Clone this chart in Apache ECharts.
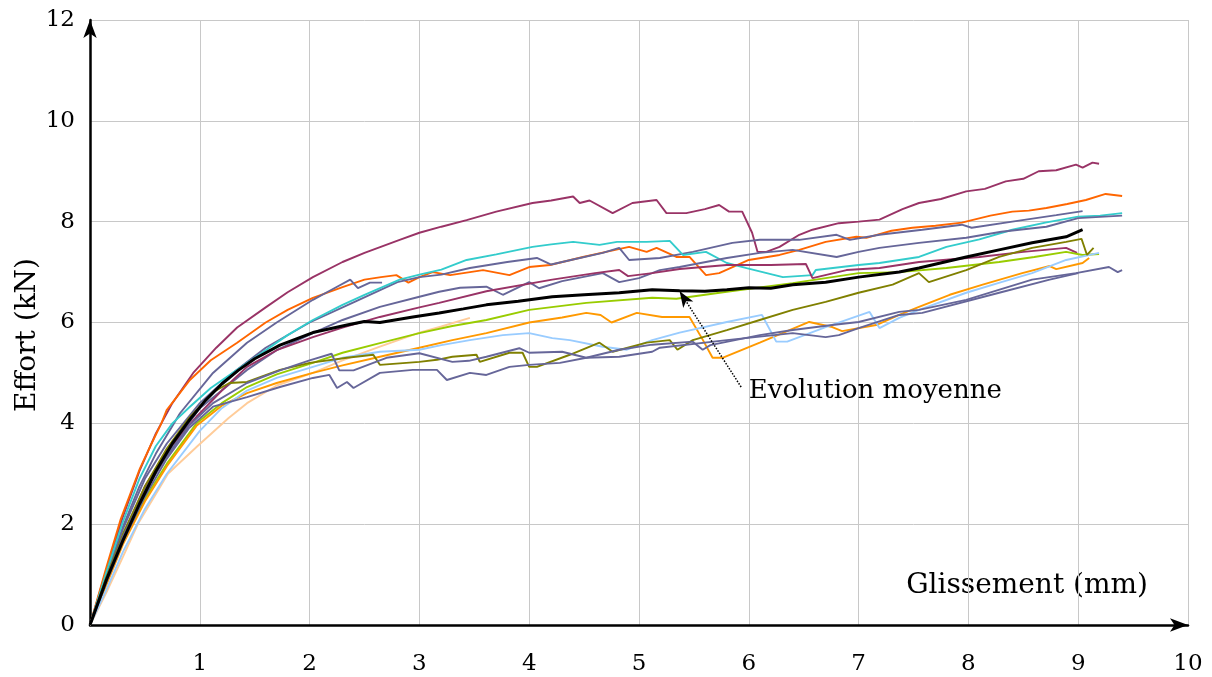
<!DOCTYPE html>
<html>
<head>
<meta charset="utf-8">
<script src="https://cdn.jsdelivr.net/npm/echarts@6/dist/echarts.min.js"></script>
<style>
  html, body { margin: 0; padding: 0; background: #fff; }
  #chart { width: 1212px; height: 677px; }
</style>
</head>
<body>
<div id="chart"></div>
<script>
// essais de glissement : [glissement (mm), effort (kN)]
var plumHigh = [[0,0],[0.15,1.1],[0.3,2.15],[0.45,3.05],[0.6,3.8],[0.75,4.4],[0.94,5.0],[1.15,5.5],[1.34,5.9],[1.6,6.3],[1.8,6.6],[2.03,6.9],[2.3,7.2],[2.5,7.38],[2.82,7.64],[3.0,7.78],[3.2,7.9],[3.43,8.03],[3.7,8.2],[4.03,8.37],[4.2,8.42],[4.4,8.5],[4.46,8.37],[4.55,8.42],[4.76,8.17],[4.94,8.37],[5.16,8.43],[5.25,8.17],[5.43,8.17],[5.6,8.25],[5.73,8.33],[5.82,8.2],[5.94,8.2],[6.03,7.78],[6.08,7.4],[6.16,7.4],[6.28,7.5],[6.46,7.74],[6.58,7.84],[6.82,7.97],[7.0,8.0],[7.19,8.04],[7.4,8.25],[7.55,8.37],[7.75,8.45],[7.98,8.6],[8.15,8.65],[8.34,8.8],[8.5,8.85],[8.64,9.0],[8.8,9.02],[8.98,9.13],[9.04,9.07],[9.13,9.17],[9.19,9.15]];
var plumMid = [[0,0],[0.15,0.9],[0.3,1.75],[0.5,2.75],[0.7,3.45],[0.97,4.13],[1.2,4.65],[1.43,5.12],[1.7,5.45],[2.03,5.71],[2.3,5.9],[2.64,6.11],[3.0,6.3],[3.18,6.39],[3.61,6.62],[4.21,6.85],[4.6,6.98],[4.82,7.04],[4.9,6.92],[5.12,6.98],[5.37,7.06],[5.8,7.14],[6.2,7.14],[6.52,7.16],[6.58,6.88],[6.89,7.04],[7.19,7.08],[7.55,7.2],[8.1,7.3],[8.5,7.4],[8.89,7.48],[8.99,7.38]];
var redOrange = [[0,0],[0.15,1.15],[0.28,2.1],[0.45,3.08],[0.55,3.55],[0.65,4.0],[0.7,4.27],[0.8,4.55],[0.91,4.86],[1.1,5.25],[1.34,5.6],[1.6,6.0],[1.8,6.25],[2.03,6.49],[2.3,6.7],[2.5,6.85],[2.65,6.9],[2.79,6.94],[2.9,6.79],[3.0,6.9],[3.12,7.0],[3.28,6.94],[3.58,7.04],[3.82,6.94],[4.0,7.1],[4.19,7.14],[4.49,7.3],[4.7,7.4],[4.91,7.5],[5.07,7.4],[5.16,7.48],[5.34,7.3],[5.46,7.3],[5.61,6.94],[5.73,6.98],[6.0,7.24],[6.28,7.34],[6.46,7.44],[6.7,7.6],[6.98,7.7],[7.07,7.68],[7.3,7.82],[7.49,7.88],[7.7,7.92],[7.94,7.98],[8.2,8.12],[8.4,8.2],[8.55,8.22],[8.71,8.27],[8.9,8.35],[9.07,8.43],[9.25,8.55],[9.4,8.51]];
var cyan = [[0,0],[0.15,1.05],[0.3,2.05],[0.45,2.9],[0.6,3.55],[0.75,4.0],[0.91,4.33],[1.1,4.7],[1.34,5.06],[1.6,5.45],[1.8,5.75],[2.03,6.05],[2.3,6.35],[2.5,6.55],[2.82,6.85],[3.0,6.95],[3.2,7.05],[3.43,7.24],[3.7,7.35],[4.03,7.5],[4.2,7.55],[4.4,7.6],[4.64,7.54],[4.8,7.6],[5.07,7.6],[5.28,7.62],[5.4,7.34],[5.61,7.4],[5.8,7.18],[5.98,7.08],[6.31,6.9],[6.58,6.94],[6.61,7.04],[7.0,7.14],[7.19,7.18],[7.55,7.3],[7.8,7.5],[8.1,7.65],[8.4,7.84],[8.7,7.98],[9.0,8.1],[9.2,8.12],[9.4,8.17]];
var slateShort = [[0,0],[0.15,1.0],[0.3,1.95],[0.45,2.75],[0.6,3.4],[0.82,4.2],[1.12,5.0],[1.43,5.6],[1.7,6.0],[2.03,6.45],[2.2,6.65],[2.37,6.85],[2.44,6.68],[2.55,6.79],[2.66,6.79]];
var slateHigh = [[0,0],[0.15,1.0],[0.3,1.9],[0.5,2.9],[0.7,3.6],[1.0,4.4],[1.3,5.0],[1.6,5.5],[2.0,6.0],[2.4,6.4],[2.8,6.8],[3.0,6.9],[3.2,6.95],[3.46,7.08],[3.8,7.2],[4.07,7.28],[4.2,7.15],[4.4,7.25],[4.67,7.38],[4.82,7.48],[4.91,7.24],[5.19,7.28],[5.49,7.4],[5.85,7.58],[6.1,7.64],[6.46,7.64],[6.8,7.74],[6.92,7.64],[7.19,7.74],[7.58,7.84],[7.94,7.94],[8.03,7.88],[8.4,8.0],[8.8,8.13],[9.04,8.21]];
var slateUpper = [[0,0],[0.15,0.95],[0.3,1.8],[0.5,2.7],[0.7,3.4],[1.0,4.3],[1.43,5.06],[1.7,5.45],[2.03,5.79],[2.3,6.05],[2.64,6.31],[3.0,6.51],[3.18,6.61],[3.37,6.69],[3.61,6.71],[3.76,6.55],[4.0,6.8],[4.09,6.68],[4.3,6.82],[4.67,6.98],[4.82,6.8],[5.0,6.88],[5.19,7.04],[5.37,7.1],[5.8,7.28],[6.1,7.38],[6.4,7.44],[6.8,7.3],[7.0,7.4],[7.19,7.48],[7.55,7.58],[7.98,7.68],[8.3,7.8],[8.71,7.9],[9.0,8.07],[9.4,8.12]];
var slateLow = [[0,0],[0.15,0.85],[0.3,1.65],[0.5,2.55],[0.7,3.3],[0.9,3.9],[1.12,4.33],[1.43,4.52],[1.73,4.72],[2.03,4.9],[2.18,4.96],[2.25,4.7],[2.34,4.82],[2.4,4.7],[2.64,5.0],[2.94,5.06],[3.16,5.06],[3.25,4.86],[3.46,5.0],[3.61,4.96],[3.82,5.12],[4.0,5.16],[4.28,5.2],[4.52,5.3],[4.82,5.46],[5.12,5.56],[5.49,5.62],[5.58,5.46],[5.65,5.55],[6.1,5.75],[6.4,5.85],[6.76,5.95],[7.0,6.01],[7.37,6.21],[7.55,6.25],[7.98,6.45],[8.58,6.85],[8.98,6.98],[9.28,7.1],[9.36,7.0],[9.4,7.04]];
var slateLower = [[0,0],[0.15,0.9],[0.3,1.75],[0.5,2.65],[0.7,3.35],[0.9,3.95],[1.12,4.4],[1.43,4.8],[1.73,5.05],[2.0,5.25],[2.2,5.38],[2.27,5.05],[2.4,5.05],[2.7,5.3],[3.0,5.39],[3.3,5.22],[3.45,5.24],[3.61,5.32],[3.91,5.49],[4.0,5.4],[4.3,5.42],[4.52,5.3],[4.82,5.32],[5.12,5.42],[5.19,5.5],[5.8,5.65],[6.4,5.79],[6.7,5.71],[6.82,5.75],[7.0,5.89],[7.37,6.15],[7.58,6.19],[8.28,6.59],[8.74,6.85],[9.0,6.98]];
var yellowGreen = [[0,0],[0.15,0.85],[0.3,1.65],[0.5,2.5],[0.7,3.2],[0.97,4.0],[1.2,4.4],[1.43,4.72],[1.7,4.97],[2.03,5.2],[2.3,5.4],[2.64,5.59],[3.0,5.79],[3.3,5.93],[3.61,6.05],[4.0,6.25],[4.52,6.39],[5.12,6.49],[5.34,6.47],[5.8,6.61],[6.4,6.78],[7.0,6.98],[7.37,7.0],[7.8,7.08],[8.28,7.2],[8.6,7.3],[8.89,7.4],[9.04,7.34],[9.19,7.36]];
var orange = [[0,0],[0.15,0.8],[0.3,1.6],[0.5,2.45],[0.7,3.15],[0.97,3.95],[1.2,4.35],[1.43,4.6],[1.7,4.8],[2.03,5.0],[2.3,5.15],[2.64,5.32],[3.0,5.5],[3.3,5.65],[3.61,5.79],[4.0,6.0],[4.3,6.1],[4.52,6.19],[4.65,6.15],[4.75,6.0],[4.98,6.19],[5.21,6.11],[5.46,6.11],[5.58,5.66],[5.67,5.3],[5.76,5.3],[6.1,5.6],[6.55,6.01],[6.76,5.91],[6.85,5.83],[7.16,5.95],[7.37,6.15],[7.55,6.31],[7.83,6.55],[8.13,6.75],[8.49,6.98],[8.74,7.12],[8.8,7.06],[9.04,7.18],[9.1,7.28]];
var lightBlue = [[0,0],[0.15,0.7],[0.3,1.45],[0.5,2.3],[0.7,3.0],[1.0,3.85],[1.2,4.3],[1.43,4.65],[1.7,4.9],[2.03,5.12],[2.3,5.3],[2.64,5.42],[3.0,5.46],[3.2,5.55],[3.46,5.65],[3.76,5.75],[4.0,5.79],[4.21,5.69],[4.37,5.65],[4.67,5.52],[4.89,5.46],[5.12,5.65],[5.37,5.8],[5.8,6.01],[6.12,6.15],[6.25,5.62],[6.35,5.62],[6.7,5.91],[7.1,6.21],[7.19,5.89],[7.37,6.09],[7.55,6.25],[7.98,6.59],[8.3,6.8],[8.58,6.98],[8.89,7.24],[9.19,7.38]];
var olive = [[0,0],[0.15,0.95],[0.3,1.8],[0.5,2.75],[0.7,3.5],[0.9,4.1],[1.12,4.62],[1.27,4.8],[1.43,4.82],[1.73,5.06],[2.0,5.2],[2.34,5.3],[2.58,5.36],[2.64,5.16],[3.0,5.22],[3.16,5.26],[3.3,5.32],[3.52,5.36],[3.55,5.22],[3.82,5.4],[3.94,5.4],[4.0,5.12],[4.07,5.12],[4.37,5.36],[4.64,5.6],[4.76,5.42],[5.07,5.6],[5.28,5.65],[5.35,5.46],[5.49,5.65],[5.8,5.85],[6.1,6.05],[6.4,6.25],[6.7,6.41],[7.0,6.59],[7.31,6.75],[7.55,6.98],[7.64,6.8],[7.98,7.04],[8.28,7.3],[8.58,7.48],[8.89,7.6],[9.03,7.66],[9.08,7.34],[9.14,7.48]];
var peach = [[0,0],[0.15,0.65],[0.3,1.35],[0.44,2.02],[0.6,2.6],[0.71,3.0],[0.98,3.55],[1.26,4.1],[1.43,4.4],[1.7,4.75],[2.03,5.0],[2.3,5.25],[2.64,5.52],[3.0,5.8],[3.2,5.92],[3.46,6.09]];
var moyenne = [[0,0],[0.15,0.9],[0.3,1.68],[0.45,2.4],[0.6,3.05],[0.75,3.6],[0.9,4.05],[1.05,4.45],[1.2,4.78],[1.35,5.05],[1.5,5.28],[1.73,5.55],[2.03,5.8],[2.34,5.95],[2.5,6.02],[2.64,6.0],[2.94,6.11],[3.18,6.19],[3.4,6.27],[3.61,6.35],[3.9,6.42],[4.21,6.51],[4.5,6.55],[4.82,6.59],[5.12,6.65],[5.37,6.63],[5.6,6.62],[5.8,6.65],[6.0,6.69],[6.2,6.68],[6.4,6.75],[6.7,6.8],[7.0,6.9],[7.37,7.0],[7.55,7.08],[7.98,7.3],[8.3,7.45],[8.58,7.58],[8.89,7.7],[9.04,7.84]];

var annotationText = 'Evolution moyenne';
var annotationLabelAt = [6.0, 4.63];
var arrowTail = [5.93, 4.72];
var arrowHead = [5.37, 6.62];

var xTicks = [0, 10, 1];
var yTicks = [0, 12, 2];

var curves = [
  { data: plumHigh, color: '#993366' },
  { data: redOrange, color: '#FF6600' },
  { data: slateShort, color: '#666699' },
  { data: slateHigh, color: '#666699' },
  { data: cyan, color: '#33CCCC' },
  { data: slateUpper, color: '#666699' },
  { data: plumMid, color: '#993366' },
  { data: peach, color: '#FFCC99' },
  { data: yellowGreen, color: '#99CC00' },
  { data: orange, color: '#FF9900' },
  { data: lightBlue, color: '#99CCFF' },
  { data: olive, color: '#808000' },
  { data: slateLower, color: '#666699' },
  { data: slateLow, color: '#666699' }
];

var serif = 'DejaVu Serif';
var chart = echarts.init(document.getElementById('chart'));

var series = curves.map(function(c) {
  return {
    type: 'line',
    data: c.data,
    showSymbol: false,
    silent: true,
    lineStyle: { color: c.color, width: 1.9 },
    z: 2
  };
});

series.push({
  type: 'line',
  name: 'moyenne',
  data: moyenne,
  showSymbol: false,
  silent: true,
  lineStyle: { color: '#000', width: 3 },
  z: 5,
  markLine: {
    silent: true,
    symbol: ['none', 'arrow'],
    symbolSize: [9, 16],
    label: { show: false },
    lineStyle: { type: 'dotted', color: '#000', width: 1.5 },
    data: [[{ coord: arrowTail }, { coord: arrowHead }]]
  },
  markPoint: {
    silent: true,
    symbol: 'circle',
    symbolSize: 0,
    data: [{
      coord: annotationLabelAt,
      label: {
        show: true,
        position: 'right',
        distance: 0,
        formatter: annotationText,
        color: '#000',
        fontFamily: serif,
        fontSize: 26
      }
    }]
  }
});

chart.setOption({
  animation: false,
  backgroundColor: '#fff',
  grid: { left: 90, right: 24, top: 20, bottom: 52 },
  xAxis: {
    type: 'value',
    min: xTicks[0],
    max: xTicks[1],
    interval: xTicks[2],
    axisLine: {
      show: true,
      onZero: false,
      symbol: ['none', 'arrow'],
      symbolSize: [10, 18],
      lineStyle: { color: '#000', width: 2.5 }
    },
    axisTick: { show: false },
    axisLabel: {
      margin: 28,
      color: '#000',
      fontFamily: serif,
      fontSize: 23,
      formatter: function(v) { return v === 0 ? '' : v; }
    },
    splitLine: { show: true, lineStyle: { color: '#c8c8c8', width: 1 } }
  },
  yAxis: {
    type: 'value',
    min: yTicks[0],
    max: yTicks[1],
    interval: yTicks[2],
    axisLine: {
      show: true,
      onZero: false,
      symbol: ['none', 'arrow'],
      symbolSize: [10, 18],
      lineStyle: { color: '#000', width: 2.5 }
    },
    axisTick: { show: false },
    axisLabel: { margin: 15, color: '#000', fontFamily: serif, fontSize: 23 },
    splitLine: { show: true, lineStyle: { color: '#c8c8c8', width: 1 } }
  },
  graphic: [{
    type: 'text',
    right: 64,
    top: 572,
    style: { text: 'Glissement (mm)', fill: '#000', font: '28px "DejaVu Serif"' }
  }, {
    type: 'text',
    x: 28,
    y: 335,
    rotation: Math.PI / 2,
    style: {
      text: 'Effort (kN)',
      fill: '#000',
      font: '28px "DejaVu Serif"',
      align: 'center',
      verticalAlign: 'middle'
    }
  }],
  series: series
});
</script>
</body>
</html>
